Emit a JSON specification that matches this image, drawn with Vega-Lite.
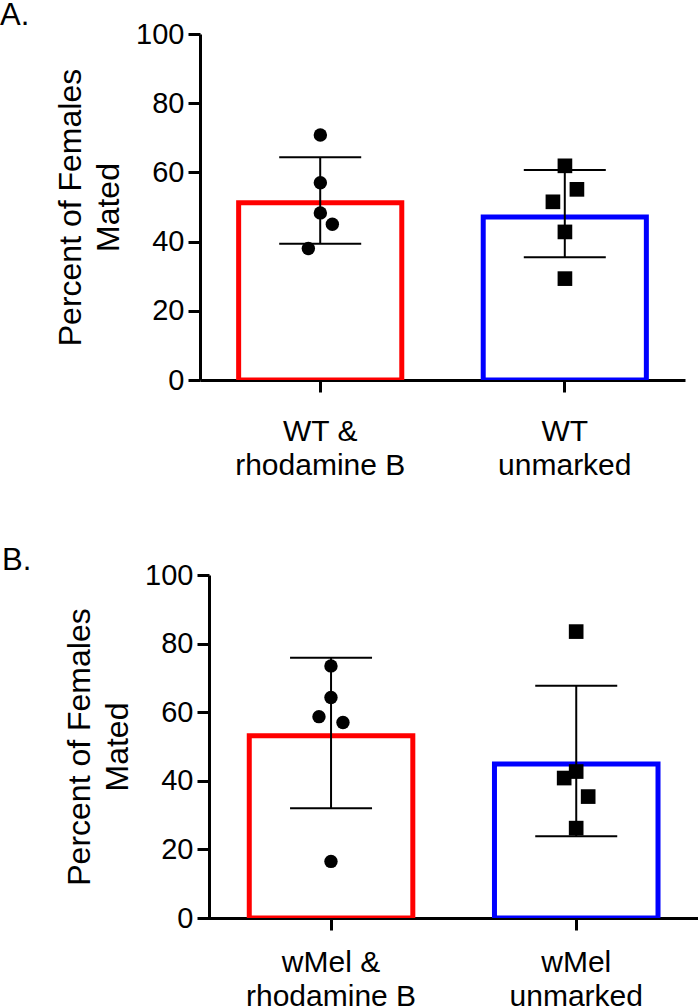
{
  "$schema": "https://vega.github.io/schema/vega-lite/v6.json",
  "padding": {"left": 0, "top": 0, "right": 0, "bottom": 0},
  "background": "white",
  "spacing": 64,
  "config": {
    "font": "Liberation Sans",
    "view": {"stroke": null},
    "axis": {
      "domainColor": "black", "domainWidth": 3, "tickColor": "black", "tickWidth": 3, "tickSize": 12,
      "labelColor": "black", "titleColor": "black", "grid": false, "titleFontWeight": "normal",
      "labelFont": "Liberation Sans", "titleFont": "Liberation Sans", "zindex": 1
    },
    "title": {"fontWeight": "normal", "color": "black", "font": "Liberation Sans"}
  },
  "datasets": {
    "summary": [
      {"panel": "A", "group": "WT & rhodamine B", "mean": 51.2, "lo": 39.4, "hi": 64.4},
      {"panel": "A", "group": "WT unmarked", "mean": 47.1, "lo": 35.5, "hi": 60.7},
      {"panel": "B", "group": "wMel & rhodamine B", "mean": 53.1, "lo": 32.0, "hi": 75.9},
      {"panel": "B", "group": "wMel unmarked", "mean": 44.9, "lo": 23.8, "hi": 67.7}
    ],
    "points": [
      {"panel": "A", "group": "WT & rhodamine B", "kind": "marked", "value": 70.8, "slot": 0},
      {"panel": "A", "group": "WT & rhodamine B", "kind": "marked", "value": 57.0, "slot": 0},
      {"panel": "A", "group": "WT & rhodamine B", "kind": "marked", "value": 48.3, "slot": 0},
      {"panel": "A", "group": "WT & rhodamine B", "kind": "marked", "value": 45.0, "slot": 1},
      {"panel": "A", "group": "WT & rhodamine B", "kind": "marked", "value": 38.0, "slot": -1},
      {"panel": "A", "group": "WT unmarked", "kind": "unmarked", "value": 61.9, "slot": 0},
      {"panel": "A", "group": "WT unmarked", "kind": "unmarked", "value": 55.1, "slot": 1},
      {"panel": "A", "group": "WT unmarked", "kind": "unmarked", "value": 51.5, "slot": -1},
      {"panel": "A", "group": "WT unmarked", "kind": "unmarked", "value": 42.8, "slot": 0},
      {"panel": "A", "group": "WT unmarked", "kind": "unmarked", "value": 29.3, "slot": 0},
      {"panel": "B", "group": "wMel & rhodamine B", "kind": "marked", "value": 73.5, "slot": 0},
      {"panel": "B", "group": "wMel & rhodamine B", "kind": "marked", "value": 64.3, "slot": 0},
      {"panel": "B", "group": "wMel & rhodamine B", "kind": "marked", "value": 58.7, "slot": -1},
      {"panel": "B", "group": "wMel & rhodamine B", "kind": "marked", "value": 57.0, "slot": 1},
      {"panel": "B", "group": "wMel & rhodamine B", "kind": "marked", "value": 16.5, "slot": 0},
      {"panel": "B", "group": "wMel unmarked", "kind": "unmarked", "value": 83.5, "slot": 0},
      {"panel": "B", "group": "wMel unmarked", "kind": "unmarked", "value": 42.7, "slot": 0},
      {"panel": "B", "group": "wMel unmarked", "kind": "unmarked", "value": 40.8, "slot": -1},
      {"panel": "B", "group": "wMel unmarked", "kind": "unmarked", "value": 35.4, "slot": 1},
      {"panel": "B", "group": "wMel unmarked", "kind": "unmarked", "value": 26.2, "slot": 0}
    ]
  },
  "vconcat": [
    {
      "title": {"text": "A.", "anchor": "start", "frame": "group", "dx": -200, "fontSize": 31, "baseline": "alphabetic", "offset": 0, "dy": 36},
      "width": 485,
      "height": 346,
      "resolve": {"scale": {"xOffset": "independent"}},
      "layer": [
        {
          "data": {"name": "summary"},
          "transform": [{"filter": "datum.panel === 'A'"}],
          "mark": {"type": "bar", "fill": "white", "strokeWidth": 5, "clip": true},
          "encoding": {
            "x": {"field": "group", "type": "nominal", "sort": ["WT & rhodamine B", "WT unmarked"],
              "scale": {"paddingInner": 0.333, "paddingOuter": 0.158},
              "axis": {"title": null, "labelAngle": 0, "labelFontSize": 30, "labelLineHeight": 34, "labelPadding": 24,
                "labelExpr": "indexof(datum.value, '&') > 0 ? [substring(datum.value, 0, indexof(datum.value, '&') + 1), substring(datum.value, indexof(datum.value, '&') + 2)] : split(datum.value, ' ')"}},
            "y": {"field": "mean", "type": "quantitative", "scale": {"domain": [0, 100]},
              "axis": {"values": [0, 20, 40, 60, 80, 100], "labelFontSize": 29, "labelPadding": 4,
                "title": ["Percent of Females", "Mated"], "titleFontSize": 32, "titleLineHeight": 38.4, "titlePadding": 10}},
            "stroke": {"field": "group", "type": "nominal", "scale": {"domain": ["WT & rhodamine B", "WT unmarked"], "range": ["#ff0000", "#0000ff"]}, "legend": null}
          }
        },
        {
          "data": {"name": "summary"},
          "transform": [{"filter": "datum.panel === 'A'"}],
          "mark": {"type": "rule", "color": "black", "strokeWidth": 2},
          "encoding": {
            "x": {"field": "group", "type": "nominal", "sort": ["WT & rhodamine B", "WT unmarked"]},
            "y": {"field": "lo", "type": "quantitative"},
            "y2": {"field": "hi"}
          }
        },
        {
          "data": {"name": "summary"},
          "transform": [{"filter": "datum.panel === 'A'"}],
          "mark": {"type": "tick", "color": "black", "thickness": 2, "size": 82, "opacity": 1},
          "encoding": {
            "x": {"field": "group", "type": "nominal", "sort": ["WT & rhodamine B", "WT unmarked"]},
            "y": {"field": "lo", "type": "quantitative"}
          }
        },
        {
          "data": {"name": "summary"},
          "transform": [{"filter": "datum.panel === 'A'"}],
          "mark": {"type": "tick", "color": "black", "thickness": 2, "size": 82, "opacity": 1},
          "encoding": {
            "x": {"field": "group", "type": "nominal", "sort": ["WT & rhodamine B", "WT unmarked"]},
            "y": {"field": "hi", "type": "quantitative"}
          }
        },
        {
          "data": {"name": "points"},
          "transform": [{"filter": "datum.panel === 'A'"}],
          "mark": {"type": "point", "filled": true, "color": "black", "opacity": 1},
          "encoding": {
            "x": {"field": "group", "type": "nominal", "sort": ["WT & rhodamine B", "WT unmarked"]},
            "xOffset": {"field": "slot", "type": "quantitative", "scale": {"domain": [-1, 1], "range": [69.7, 93.7]}},
            "y": {"field": "value", "type": "quantitative"},
            "shape": {"field": "kind", "type": "nominal", "scale": {"domain": ["marked", "unmarked"], "range": ["circle", "square"]}, "legend": null},
            "size": {"field": "kind", "type": "ordinal", "scale": {"domain": ["marked", "unmarked"], "range": [180, 215]}, "legend": null}
          }
        }
      ]
    },
    {
      "title": {"text": "B.", "anchor": "start", "frame": "group", "dx": -198, "fontSize": 31, "baseline": "alphabetic", "offset": 0, "dy": 39.6},
      "width": 498,
      "height": 343,
      "resolve": {"scale": {"xOffset": "independent"}},
      "layer": [
        {
          "data": {"name": "summary"},
          "transform": [{"filter": "datum.panel === 'B'"}],
          "mark": {"type": "bar", "fill": "white", "strokeWidth": 5, "clip": true},
          "encoding": {
            "x": {"field": "group", "type": "nominal", "sort": ["wMel & rhodamine B", "wMel unmarked"],
              "scale": {"paddingInner": 0.333, "paddingOuter": 0.182, "align": 0.552},
              "axis": {"title": null, "labelAngle": 0, "labelFontSize": 30, "labelLineHeight": 34, "labelPadding": 17,
                "labelExpr": "indexof(datum.value, '&') > 0 ? [substring(datum.value, 0, indexof(datum.value, '&') + 1), substring(datum.value, indexof(datum.value, '&') + 2)] : split(datum.value, ' ')"}},
            "y": {"field": "mean", "type": "quantitative", "scale": {"domain": [0, 100]},
              "axis": {"values": [0, 20, 40, 60, 80, 100], "labelFontSize": 29, "labelPadding": 4, "offset": -9,
                "title": ["Percent of Females", "Mated"], "titleFontSize": 32, "titleLineHeight": 38.4, "titlePadding": 10}},
            "stroke": {"field": "group", "type": "nominal", "scale": {"domain": ["wMel & rhodamine B", "wMel unmarked"], "range": ["#ff0000", "#0000ff"]}, "legend": null}
          }
        },
        {
          "data": {"name": "summary"},
          "transform": [{"filter": "datum.panel === 'B'"}],
          "mark": {"type": "rule", "color": "black", "strokeWidth": 2},
          "encoding": {
            "x": {"field": "group", "type": "nominal", "sort": ["wMel & rhodamine B", "wMel unmarked"]},
            "y": {"field": "lo", "type": "quantitative"},
            "y2": {"field": "hi"}
          }
        },
        {
          "data": {"name": "summary"},
          "transform": [{"filter": "datum.panel === 'B'"}],
          "mark": {"type": "tick", "color": "black", "thickness": 2, "size": 82, "opacity": 1},
          "encoding": {
            "x": {"field": "group", "type": "nominal", "sort": ["wMel & rhodamine B", "wMel unmarked"]},
            "y": {"field": "lo", "type": "quantitative"}
          }
        },
        {
          "data": {"name": "summary"},
          "transform": [{"filter": "datum.panel === 'B'"}],
          "mark": {"type": "tick", "color": "black", "thickness": 2, "size": 82, "opacity": 1},
          "encoding": {
            "x": {"field": "group", "type": "nominal", "sort": ["wMel & rhodamine B", "wMel unmarked"]},
            "y": {"field": "hi", "type": "quantitative"}
          }
        },
        {
          "data": {"name": "points"},
          "transform": [{"filter": "datum.panel === 'B'"}],
          "mark": {"type": "point", "filled": true, "color": "black", "opacity": 1},
          "encoding": {
            "x": {"field": "group", "type": "nominal", "sort": ["wMel & rhodamine B", "wMel unmarked"]},
            "xOffset": {"field": "slot", "type": "quantitative", "scale": {"domain": [-1, 1], "range": [69.7, 93.7]}},
            "y": {"field": "value", "type": "quantitative"},
            "shape": {"field": "kind", "type": "nominal", "scale": {"domain": ["marked", "unmarked"], "range": ["circle", "square"]}, "legend": null},
            "size": {"field": "kind", "type": "ordinal", "scale": {"domain": ["marked", "unmarked"], "range": [180, 215]}, "legend": null}
          }
        }
      ]
    }
  ]
}
